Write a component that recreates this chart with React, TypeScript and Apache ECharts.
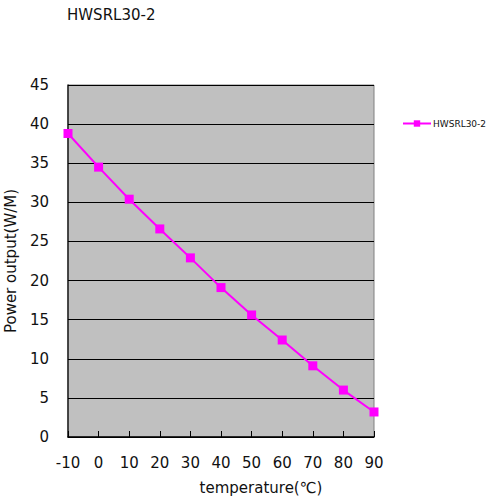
import React, { useEffect, useRef } from "react";
import * as echarts from "echarts";

const temperatures = [-10, 0, 10, 20, 30, 40, 50, 60, 70, 80, 90];
const powerOutput = [38.8, 34.5, 30.4, 26.6, 22.9, 19.1, 15.6, 12.4, 9.1, 6.0, 3.2];
const seriesName = "HWSRL30-2";
const titleText = "HWSRL30-2";
const xName = "temperature(℃)";
const yName = "Power output(W/M)";

const FONT = "DejaVu Sans";

export default function App() {
  const ref = useRef<HTMLDivElement>(null);
  useEffect(() => {
    if (!ref.current) return;
    const chart = echarts.init(ref.current, null, { renderer: "svg" });
    chart.setOption({
      animation: false,
      backgroundColor: "#ffffff",
      title: {
        text: titleText,
        left: 62,
        top: 2,
        textStyle: { fontFamily: FONT, fontSize: 15, fontWeight: "normal", color: "#111" },
      },
      legend: {
        left: 397,
        top: 114,
        itemWidth: 28,
        itemHeight: 8,
        itemGap: 4,
        textStyle: { fontFamily: FONT, fontSize: 9, color: "#111", padding: [0, 0, 0, -3] },
        data: [seriesName],
      },
      grid: {
        left: 68,
        right: 115,
        top: 85,
        bottom: 62,
        containLabel: false,
        outerBoundsMode: "none",
        show: true,
        backgroundColor: "#c0c0c0",
        borderColor: "#808080",
        borderWidth: 1,
      },
      xAxis: {
        type: "value",
        min: -10,
        max: 90,
        interval: 10,
        name: xName,
        nameLocation: "middle",
        nameGap: 43,
        nameTextStyle: { fontFamily: FONT, fontSize: 15, color: "#111", padding: [0, 0, 0, 80] },
        axisLine: { show: true, onZero: false, lineStyle: { color: "#000", width: 1.5 } },
        axisTick: { show: true, inside: true, length: 6, lineStyle: { color: "#000" } },
        axisLabel: { margin: 18, fontFamily: FONT, fontSize: 15, color: "#111" },
        splitLine: { show: false },
      },
      yAxis: {
        type: "value",
        min: 0,
        max: 45,
        interval: 5,
        name: yName,
        nameLocation: "middle",
        nameGap: 50,
        nameTextStyle: { fontFamily: FONT, fontSize: 15, color: "#111" },
        axisLine: { show: true, onZero: false, lineStyle: { color: "#222", width: 1.5 } },
        axisTick: { show: true, inside: true, length: 3, lineStyle: { color: "#000" } },
        axisLabel: { margin: 19, fontFamily: FONT, fontSize: 15, color: "#111" },
        splitLine: { show: true, lineStyle: { color: "#000", width: 1 } },
      },
      series: [
        {
          name: seriesName,
          type: "line",
          data: temperatures.map((t, i) => [t, powerOutput[i]]),
          symbol: "rect",
          symbolSize: 9,
          lineStyle: { color: "#ff00ff", width: 2 },
          itemStyle: { color: "#ff00ff" },
          clip: false,
        },
      ],
    });
    return () => chart.dispose();
  }, []);
  return <div ref={ref} style={{ width: 489, height: 499, position: "absolute", left: 0, top: 0 }} />;
}
